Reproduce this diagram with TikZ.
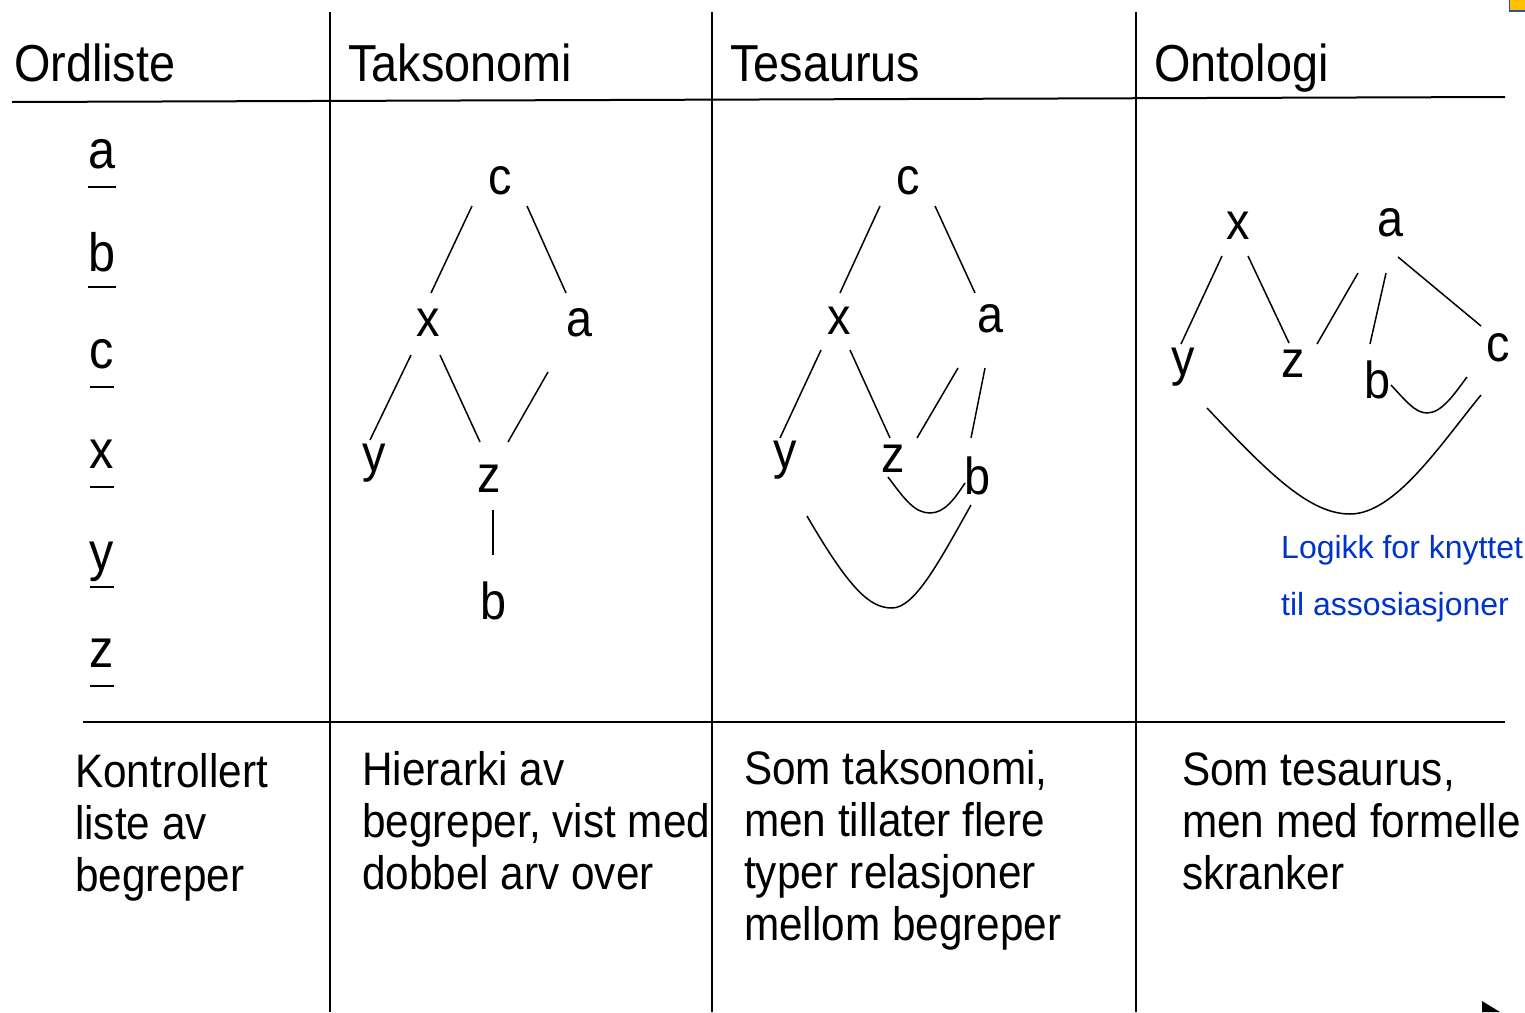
\documentclass[tikz,border=0pt]{standalone}
\usepackage{fontspec}
\setmainfont{Liberation Sans}[FakeStretch=0.9]
\newfontfamily\plainsans{Liberation Sans}
\definecolor{noteblue}{HTML}{0033CC}
\definecolor{markyellow}{HTML}{FFC000}
\definecolor{markblue}{HTML}{2F4FB0}
\begin{document}
\begin{tikzpicture}[x=1pt,y=-1pt,
  rule/.style={line width=1.4pt},
  hrule/.style={line width=2pt},
  link/.style={line width=1.5pt},
  head/.style={anchor=base west,inner sep=0,font=\fontsize{52}{60}\selectfont},
  term/.style={anchor=base,inner sep=0,font=\fontsize{52}{60}\selectfont},
  entry/.style={anchor=base,inner sep=0,font=\fontsize{54}{60}\selectfont},
  uline/.style={line width=2.6pt},
  % multi-line nodes are placed by the baseline of their last line
  desc/.style={anchor=base west,inner sep=0,align=left,font=\fontsize{47}{52}\selectfont},
  note/.style={anchor=base west,inner sep=0,text=noteblue,font=\plainsans\fontsize{32}{57}\selectfont,align=left}]
\useasboundingbox (0,0) rectangle (1525,1012);

% table frame
\draw[hrule] (12,102) -- (1505,97);
\draw[hrule] (83,722) -- (1505,722);
\draw[rule] (330,12) -- (330,1012);
\draw[rule] (712,12) -- (712,1012);
\draw[rule] (1136,12) -- (1136,1012);

% column headings
\node[head] (h1) at (14,81) {Ordliste};
\node[head] (h2) at (348,81) {Taksonomi};
\node[head] (h3) at (730,81) {Tesaurus};
\node[head] (h4) at (1154,81) {Ontologi};

% word list
\foreach \n/\t/\yb in {la/a/168, lb/b/271, lc/c/368, lx/x/468, ly/y/570, lz/z/667}{
  \node[entry] (\n) at (102,\yb) {\t};
}
\foreach \n/\yu in {la/187, lb/287, lc/387, lx/487, ly/587, lz/686}{
  \draw[uline] (\n.base west |- 0,\yu) -- (\n.base east |- 0,\yu);
}

% taxonomy tree
\node[term] (tc) at (500,194) {c};
\node[term] (tx) at (428,336) {x};
\node[term] (ta) at (580,336) {a};
\node[term] (ty) at (374,471) {y};
\node[term] (tz) at (489,492) {z};
\node[term] (tb) at (494,619) {b};
\draw[link] ([shift={(-28,12)}]tc.base) -- ([shift={(3,-43)}]tx.base);
\draw[link] ([shift={(27,12)}]tc.base) -- ([shift={(-14,-43)}]ta.base);
\draw[link] ([shift={(-17,19)}]tx.base) -- ([shift={(-4,-31)}]ty.base);
\draw[link] ([shift={(12,19)}]tx.base) -- ([shift={(-9,-50)}]tz.base);
\draw[link] ([shift={(-32,36)}]ta.base) -- ([shift={(19,-50)}]tz.base);
\draw[link] ([shift={(4,18)}]tz.base) -- ([shift={(-1,-64)}]tb.base);

% thesaurus graph
\node[term] (sc) at (908,194) {c};
\node[term] (sx) at (839,334) {x};
\node[term] (sa) at (990,332) {a};
\node[term] (sy) at (785,468) {y};
\node[term] (sz) at (893,472) {z};
\node[term] (sb) at (977,494) {b};
\draw[link] ([shift={(-28,12)}]sc.base) -- ([shift={(1,-41)}]sx.base);
\draw[link] ([shift={(27,12)}]sc.base) -- ([shift={(-15,-39)}]sa.base);
\draw[link] ([shift={(-18,16)}]sx.base) -- ([shift={(-5,-30)}]sy.base);
\draw[link] ([shift={(11,16)}]sx.base) -- ([shift={(-3,-34)}]sz.base);
\draw[link] ([shift={(-32,36)}]sa.base) -- ([shift={(24,-34)}]sz.base);
\draw[link] ([shift={(-5,36)}]sa.base) -- ([shift={(-6,-56)}]sb.base);
\draw[link] ([shift={(-5,5)}]sz.base) .. controls (905,500) and (915,513) .. (930,513)
  .. controls (945,513) and (955,498) .. ([shift={(-12,-11)}]sb.base);
\draw[link] ([shift={(22,48)}]sy.base) .. controls (850,590) and (870,608) .. (892,608)
  .. controls (915,608) and (940,560) .. ([shift={(-6,11)}]sb.base);

% ontology graph
\node[term] (ox) at (1238,239) {x};
\node[term] (oa) at (1390,236) {a};
\node[term] (oy) at (1183,375) {y};
\node[term] (oz) at (1293,377) {z};
\node[term] (ob) at (1377,398) {b};
\node[term] (oc) at (1498,361) {c};
\draw[link] ([shift={(-16,17)}]ox.base) -- ([shift={(-2,-31)}]oy.base);
\draw[link] ([shift={(10,17)}]ox.base) -- ([shift={(-4,-34)}]oz.base);
\draw[link] ([shift={(-32,37)}]oa.base) -- ([shift={(24,-33)}]oz.base);
\draw[link] ([shift={(-4,37)}]oa.base) -- ([shift={(-7,-54)}]ob.base);
\draw[link] ([shift={(8,21)}]oa.base) -- ([shift={(-17,-35)}]oc.base);
\draw[link] ([shift={(14,-13)}]ob.base) .. controls (1405,400) and (1415,413) .. (1427,413)
  .. controls (1442,413) and (1455,393) .. ([shift={(-31,16)}]oc.base);
\draw[link] ([shift={(24,33)}]oy.base) .. controls (1270,475) and (1310,514) .. (1350,514)
  .. controls (1395,514) and (1440,445) .. ([shift={(-17,34)}]oc.base);
\node[note] (logic) at (1281,615) {Logikk for knyttet\\til assosiasjoner};

% descriptions
\node[desc] (d1) at (75,891) {Kontrollert\\liste av\\begreper};
\node[desc] (d2) at (362,889) {Hierarki av\\begreper, vist med\\dobbel arv over};
\node[desc] (d3) at (744,940) {Som taksonomi,\\men tillater flere\\typer relasjoner\\mellom begreper};
\node[desc] (d4) at (1182,889) {Som tesaurus,\\men med formelle\\skranker};

% corner marks
\draw[markblue,fill=markyellow,line width=1.5pt] (1509.5,-2) rectangle (1527,11);
\fill (1482,1001) -- (1500,1012) -- (1482,1012) -- cycle;
\end{tikzpicture}
\end{document}
